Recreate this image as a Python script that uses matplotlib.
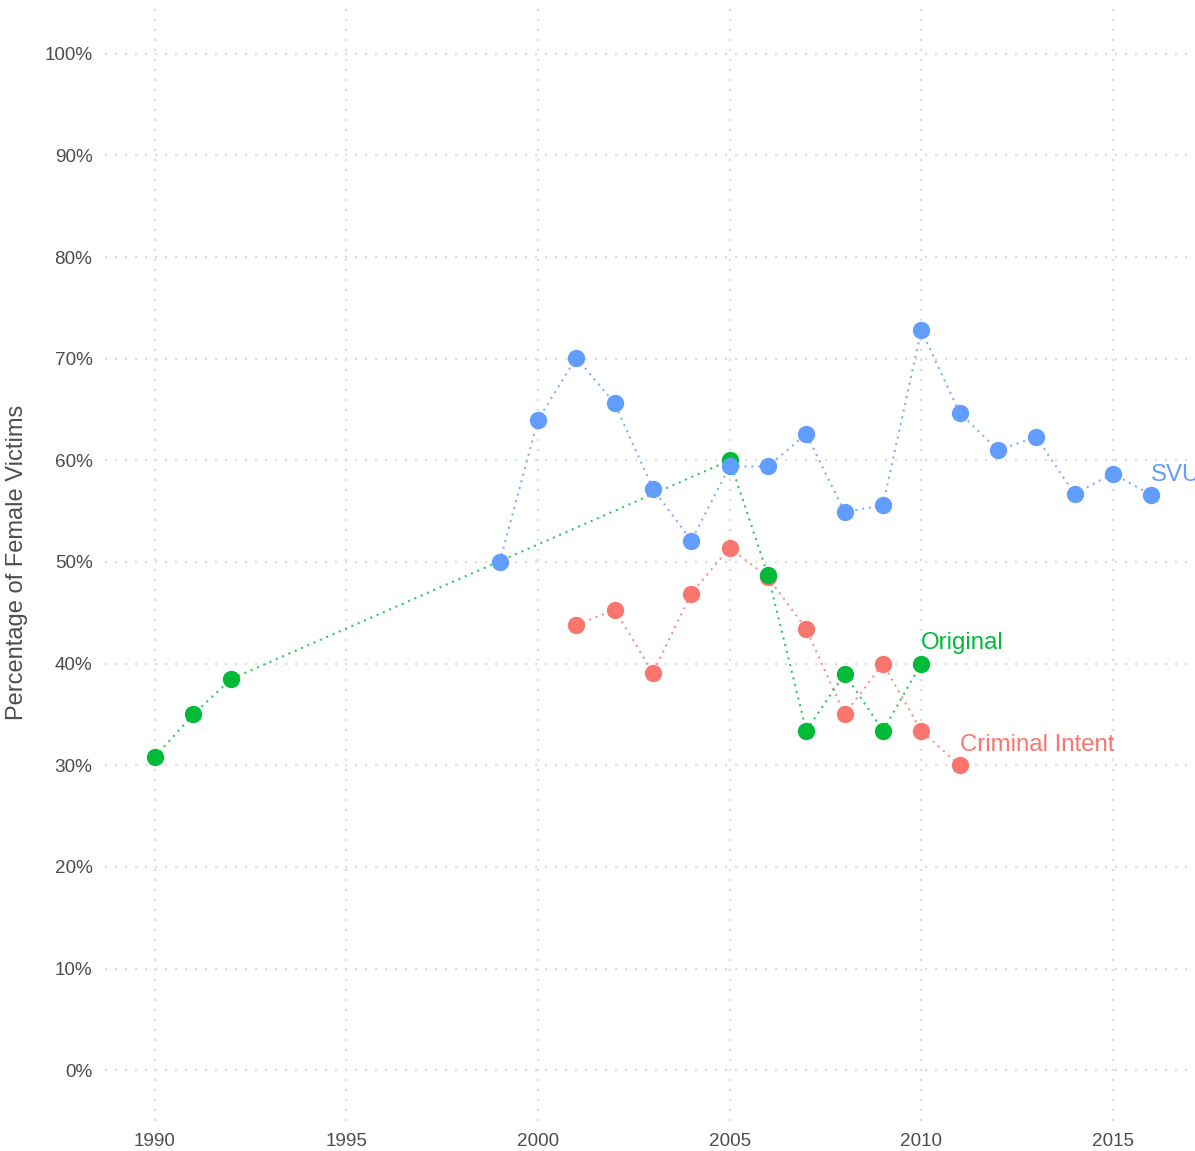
import matplotlib
matplotlib.use('Agg')
import matplotlib.pyplot as plt
import numpy as np

plt.rcParams['font.family'] = ['Liberation Sans', 'DejaVu Sans']

# data (percentage of female victims per season year)
svu_years = [1999, 2000, 2001, 2002, 2003, 2004, 2005, 2006, 2007, 2008,
             2009, 2010, 2011, 2012, 2013, 2014, 2015, 2016]
svu_pct = [50.0, 64.0, 70.1, 65.6, 57.2, 52.1, 59.4, 59.4, 62.6, 54.9,
           55.6, 72.8, 64.7, 61.0, 62.3, 56.7, 58.7, 56.6]

orig_years = [1990, 1991, 1992, 2005, 2006, 2007, 2008, 2009, 2010]
orig_pct = [30.8, 35.0, 38.5, 60.0, 48.7, 33.4, 39.0, 33.4, 40.0]

ci_years = [2001, 2002, 2003, 2004, 2005, 2006, 2007, 2008, 2009, 2010, 2011]
ci_pct = [43.8, 45.3, 39.1, 46.9, 51.4, 48.5, 43.4, 35.0, 40.0, 33.4, 30.0]

series = [
    ('Criminal Intent', ci_years, ci_pct, '#F8766D'),
    ('Original', orig_years, orig_pct, '#00BA38'),
    ('SVU', svu_years, svu_pct, '#619CFF'),
]

fig = plt.figure(figsize=(11.95, 11.51), dpi=100)
ax = fig.add_axes([105/1195, 30/1151, 1096/1195, 1118/1151])

for name, xs, ys, col in series:
    ax.plot(xs, ys, linestyle=(0, (1, 2.3)), color=col, linewidth=1.5,
            alpha=0.8, zorder=2)
    ax.plot(xs, ys, 'o', color=col, markersize=12.5, markeredgewidth=0, zorder=3)
    ax.text(xs[-1], ys[-1] + 2.0, name, color=col, fontsize=17.3,
            ha='left', va='center', clip_on=False)

ax.set_xlim(1988.7, 2017.3)
ax.set_ylim(-5, 105)
ax.set_xticks(np.arange(1990, 2016, 5))
ax.set_yticks(np.arange(0, 101, 10))
ax.set_yticklabels([f'{v}%' for v in range(0, 101, 10)])

ax.grid(True, linestyle=(0, (1, 3.5)), color='#DEDEDE', linewidth=1.6)
ax.set_axisbelow(True)
for s in ax.spines.values():
    s.set_visible(False)
ax.tick_params(length=0, labelsize=13.6, labelcolor='#4D4D4D', pad=9)

ax.set_ylabel('Percentage of Female Victims', fontsize=17, color='#4D4D4D', labelpad=12)

fig.savefig('out.png', dpi=100)
